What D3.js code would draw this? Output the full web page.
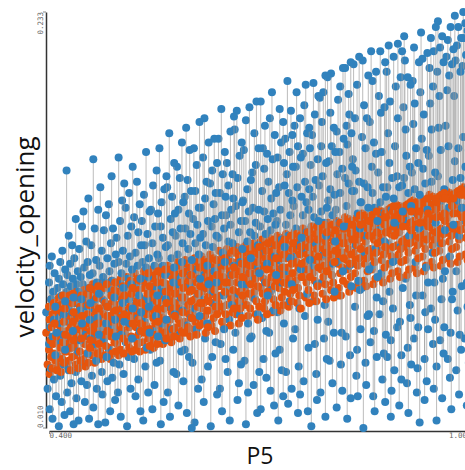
<!DOCTYPE html>
<html>
<head>
<meta charset="utf-8">
<script src="https://cdn.jsdelivr.net/npm/d3@7"></script>
<style>
html,body{margin:0;padding:0;background:#fff;}
svg{display:block;}
</style>
</head>
<body>
<svg id="chart" width="465" height="470"></svg>
<script>
const xLabel = "P5";
const yLabel = "velocity_opening";
const xTicks = [0.400, 1.000];
const yTicks = [0.010, 0.233];

const p5 = [
.396,.398,.400,.400,.401,.401,.402,.403,.403,.404,.405,.405,.406,.407,.407,.408,.409,.409,.410,.411,
.412,.412,.413,.414,.414,.415,.416,.416,.417,.418,.418,.419,.420,.420,.421,.421,.422,.423,.423,.423,
.424,.425,.425,.426,.426,.427,.428,.428,.429,.430,.430,.431,.431,.432,.433,.433,.434,.434,.435,.435,
.436,.436,.437,.438,.438,.439,.439,.440,.441,.441,.442,.442,.443,.444,.444,.445,.446,.446,.447,.447,
.448,.449,.449,.450,.450,.451,.452,.452,.453,.454,.454,.455,.455,.456,.457,.457,.458,.458,.459,.459,
.460,.460,.461,.462,.462,.463,.463,.464,.465,.465,.466,.467,.467,.468,.468,.469,.470,.470,.471,.471,
.472,.473,.473,.474,.475,.475,.476,.476,.477,.478,.478,.479,.480,.480,.481,.481,.482,.483,.483,.483,
.484,.485,.485,.486,.487,.487,.488,.488,.489,.490,.490,.491,.491,.492,.493,.493,.494,.494,.495,.495,
.496,.497,.497,.498,.499,.499,.500,.500,.501,.502,.502,.503,.503,.504,.505,.505,.506,.506,.507,.507,
.508,.509,.509,.510,.511,.511,.512,.512,.513,.514,.514,.515,.515,.516,.517,.517,.518,.518,.519,.519,
.520,.521,.521,.522,.523,.523,.524,.524,.525,.526,.526,.527,.527,.528,.529,.529,.530,.530,.531,.531,
.532,.533,.533,.534,.535,.535,.536,.536,.537,.538,.538,.539,.539,.540,.541,.541,.542,.542,.543,.543,
.544,.545,.545,.546,.547,.547,.548,.548,.549,.550,.550,.551,.551,.552,.553,.553,.554,.554,.555,.555,
.556,.557,.557,.558,.559,.559,.560,.560,.561,.562,.562,.563,.563,.564,.565,.565,.566,.566,.567,.567,
.568,.569,.569,.570,.571,.571,.572,.572,.573,.574,.574,.575,.575,.576,.577,.577,.578,.578,.579,.579,
.580,.581,.581,.582,.583,.583,.584,.584,.585,.586,.586,.587,.587,.588,.589,.589,.590,.590,.591,.591,
.592,.593,.593,.594,.595,.595,.596,.596,.597,.598,.598,.599,.599,.600,.601,.601,.602,.602,.603,.603,
.604,.605,.605,.606,.607,.607,.608,.608,.609,.610,.610,.611,.611,.612,.613,.613,.614,.614,.615,.615,
.616,.617,.617,.618,.619,.619,.620,.620,.621,.622,.622,.623,.623,.624,.625,.625,.626,.626,.627,.627,
.628,.629,.629,.630,.631,.631,.632,.632,.633,.634,.634,.635,.635,.636,.637,.637,.638,.638,.639,.639,
.640,.641,.641,.642,.643,.643,.644,.644,.645,.646,.646,.647,.647,.648,.649,.649,.650,.650,.651,.651,
.652,.653,.653,.654,.655,.655,.656,.656,.657,.658,.658,.659,.659,.660,.661,.661,.662,.662,.663,.663,
.664,.665,.665,.666,.667,.667,.668,.668,.669,.670,.670,.671,.671,.672,.673,.673,.674,.674,.675,.675,
.676,.677,.677,.678,.679,.679,.680,.680,.681,.682,.682,.683,.683,.684,.685,.685,.686,.686,.687,.687,
.688,.689,.689,.690,.691,.691,.692,.692,.693,.694,.694,.695,.695,.696,.697,.697,.698,.698,.699,.699,
.700,.701,.701,.702,.703,.703,.704,.704,.705,.706,.706,.707,.707,.708,.709,.709,.710,.710,.711,.711,
.712,.713,.713,.714,.715,.715,.716,.716,.717,.718,.718,.719,.719,.720,.721,.721,.722,.722,.723,.723,
.724,.725,.725,.726,.727,.727,.728,.728,.729,.730,.730,.731,.731,.732,.733,.733,.734,.734,.735,.735,
.736,.737,.737,.738,.739,.739,.740,.740,.741,.742,.742,.743,.743,.744,.745,.745,.746,.746,.747,.747,
.748,.749,.749,.750,.751,.751,.752,.752,.753,.754,.754,.755,.755,.756,.757,.757,.758,.758,.759,.759,
.760,.761,.761,.762,.763,.763,.764,.764,.765,.766,.766,.767,.767,.768,.769,.769,.770,.770,.771,.771,
.772,.773,.773,.774,.775,.775,.776,.776,.777,.778,.778,.779,.779,.780,.781,.781,.782,.782,.783,.783,
.784,.785,.785,.786,.787,.787,.788,.788,.789,.790,.790,.791,.791,.792,.793,.793,.794,.794,.795,.795,
.796,.797,.797,.798,.799,.799,.800,.800,.801,.802,.802,.803,.803,.804,.805,.805,.806,.806,.807,.807,
.808,.809,.809,.810,.811,.811,.812,.812,.813,.814,.814,.815,.815,.816,.817,.817,.818,.818,.819,.819,
.820,.821,.821,.822,.823,.823,.824,.824,.825,.826,.826,.827,.827,.828,.829,.829,.830,.830,.831,.831,
.832,.833,.833,.834,.835,.835,.836,.836,.837,.838,.838,.839,.839,.840,.841,.841,.842,.842,.843,.843,
.844,.845,.845,.846,.847,.847,.848,.848,.849,.850,.850,.851,.851,.852,.853,.853,.854,.854,.855,.855,
.856,.857,.857,.858,.859,.859,.860,.860,.861,.862,.862,.863,.863,.864,.865,.865,.866,.866,.867,.867,
.868,.869,.869,.870,.871,.871,.872,.872,.873,.874,.874,.875,.875,.876,.877,.877,.878,.878,.879,.879,
.880,.881,.881,.882,.883,.883,.884,.884,.885,.886,.886,.887,.887,.888,.889,.889,.890,.890,.891,.891,
.892,.893,.893,.894,.895,.895,.896,.896,.897,.898,.898,.899,.899,.900,.901,.901,.902,.902,.903,.903,
.904,.905,.905,.906,.907,.907,.908,.908,.909,.910,.910,.911,.911,.912,.913,.913,.914,.914,.915,.915,
.916,.917,.917,.918,.919,.919,.920,.920,.921,.922,.922,.923,.923,.924,.925,.925,.926,.926,.927,.927,
.928,.929,.929,.930,.931,.931,.932,.932,.933,.934,.934,.935,.935,.936,.937,.937,.938,.938,.939,.939,
.940,.941,.941,.942,.943,.943,.944,.944,.945,.946,.946,.947,.947,.948,.949,.949,.950,.950,.951,.951,
.952,.953,.953,.954,.955,.955,.956,.956,.957,.958,.958,.959,.959,.960,.961,.961,.962,.962,.963,.963,
.964,.965,.965,.966,.967,.967,.968,.968,.969,.970,.970,.971,.971,.972,.973,.973,.974,.974,.975,.975,
.976,.977,.977,.978,.979,.979,.980,.980,.981,.982,.982,.983,.983,.984,.985,.985,.986,.986,.987,.987,
.988,.989,.989,.990,.991,.991,.992,.992,.993,.994,.994,.995,.995,.996,.997,.997,.998,.998,.999,.999
];

const predicted = [
.061,.044,.075,.052,.068,.039,.057,.079,.048,.064,.071,.042,.055,.077,.050,.066,.046,.073,.059,.041,
.049,.070,.058,.080,.043,.065,.053,.076,.040,.062,.072,.047,.056,.081,.067,.045,.074,.051,.060,.078,
.068,.051,.079,.043,.062,.074,.055,.046,.081,.059,.070,.041,.064,.053,.077,.048,.067,.082,.057,.072,
.054,.077,.066,.044,.083,.060,.049,.072,.057,.080,.042,.069,.063,.075,.051,.046,.081,.058,.070,.065,
.073,.047,.061,.084,.055,.068,.043,.078,.064,.050,.082,.059,.071,.045,.076,.066,.053,.085,.062,.057,
.059,.081,.049,.070,.087,.064,.053,.076,.045,.068,.084,.057,.072,.061,.080,.050,.066,.086,.055,.074,
.082,.063,.051,.074,.088,.047,.068,.079,.057,.071,.085,.060,.049,.077,.066,.054,.087,.070,.062,.075,
.064,.086,.053,.075,.047,.070,.081,.059,.089,.067,.050,.078,.061,.072,.084,.056,.068,.088,.051,.073,
.076,.055,.088,.065,.049,.072,.083,.060,.069,.090,.052,.079,.063,.074,.058,.086,.068,.050,.081,.071,
.061,.084,.072,.050,.091,.067,.056,.079,.087,.064,.053,.075,.070,.089,.059,.082,.051,.073,.066,.085,
.081,.058,.070,.093,.052,.075,.087,.064,.078,.055,.090,.068,.060,.084,.072,.051,.089,.066,.077,.062,
.068,.091,.056,.079,.073,.094,.061,.085,.052,.076,.065,.088,.071,.082,.058,.093,.074,.063,.086,.054,
.086,.063,.075,.095,.057,.080,.069,.090,.053,.072,.083,.066,.092,.060,.078,.088,.055,.074,.094,.067,
.065,.090,.078,.059,.096,.072,.084,.062,.093,.069,.055,.081,.088,.074,.061,.095,.068,.083,.058,.077,
.087,.064,.097,.075,.060,.092,.081,.068,.095,.072,.056,.085,.078,.090,.063,.074,.093,.059,.082,.070,
.071,.095,.064,.086,.099,.077,.068,.091,.082,.058,.074,.097,.066,.088,.080,.062,.093,.072,.085,.061,
.090,.067,.080,.100,.073,.094,.061,.086,.098,.076,.064,.089,.071,.083,.096,.059,.078,.092,.069,.084,
.072,.097,.084,.063,.101,.079,.092,.067,.095,.088,.060,.075,.099,.082,.069,.090,.065,.096,.077,.086,
.094,.074,.102,.083,.066,.097,.088,.077,.100,.070,.091,.061,.085,.095,.073,.099,.080,.064,.089,.078,
.081,.103,.073,.093,.086,.065,.098,.077,.090,.101,.069,.084,.096,.062,.088,.075,.100,.080,.092,.071,
.100,.077,.092,.105,.073,.086,.098,.081,.095,.067,.089,.103,.075,.091,.064,.097,.083,.101,.071,.088,
.085,.106,.076,.097,.090,.069,.102,.082,.094,.065,.088,.104,.079,.099,.072,.092,.084,.105,.074,.096,
.104,.080,.096,.071,.088,.107,.077,.099,.092,.066,.102,.083,.094,.074,.105,.087,.069,.098,.081,.091,
.091,.107,.079,.102,.095,.085,.108,.098,.076,.104,.089,.070,.100,.082,.106,.093,.074,.097,.087,.103,
.108,.087,.101,.080,.109,.093,.104,.083,.097,.071,.090,.106,.078,.099,.086,.068,.103,.094,.075,.107,
.093,.110,.085,.106,.100,.111,.082,.103,.090,.074,.097,.108,.078,.101,.088,.105,.071,.095,.109,.083,
.107,.087,.112,.097,.083,.110,.102,.091,.072,.095,.105,.079,.099,.111,.086,.093,.076,.108,.101,.089,
.098,.113,.089,.110,.104,.085,.112,.095,.073,.106,.092,.101,.080,.109,.096,.076,.103,.088,.111,.083,
.112,.092,.114,.101,.087,.108,.105,.096,.075,.111,.090,.102,.082,.113,.098,.078,.106,.093,.084,.109,
.101,.115,.093,.112,.108,.089,.114,.099,.077,.105,.085,.110,.096,.081,.113,.103,.074,.107,.091,.098,
.116,.096,.117,.105,.092,.112,.110,.099,.080,.114,.088,.103,.095,.115,.084,.107,.077,.101,.111,.091,
.105,.117,.097,.118,.112,.093,.116,.103,.081,.109,.089,.114,.100,.078,.106,.118,.086,.111,.096,.102,
.119,.099,.114,.108,.095,.117,.113,.102,.082,.116,.091,.106,.097,.119,.087,.110,.079,.104,.115,.094,
.108,.120,.100,.117,.115,.096,.118,.106,.084,.112,.092,.103,.119,.088,.110,.080,.114,.099,.105,.116,
.111,.121,.102,.118,.098,.116,.107,.085,.114,.093,.120,.104,.081,.112,.096,.119,.089,.109,.101,.117,
.116,.104,.123,.112,.100,.120,.087,.109,.095,.122,.106,.083,.117,.098,.114,.091,.121,.103,.111,.119,
.120,.112,.104,.121,.093,.115,.100,.118,.085,.108,.123,.097,.111,.088,.122,.101,.114,.124,.106,.119,
.115,.125,.107,.122,.103,.119,.089,.112,.098,.124,.110,.086,.120,.101,.117,.094,.123,.105,.113,.121,
.122,.114,.106,.124,.095,.118,.102,.120,.087,.111,.125,.099,.113,.090,.123,.104,.115,.126,.109,.121,
.118,.127,.110,.124,.105,.121,.091,.114,.100,.126,.112,.088,.122,.103,.119,.096,.125,.107,.115,.123,
.125,.117,.109,.127,.098,.121,.105,.124,.090,.114,.128,.102,.116,.093,.126,.107,.118,.129,.113,.123,
.122,.130,.114,.127,.108,.124,.094,.117,.103,.129,.115,.091,.125,.106,.122,.099,.128,.110,.118,.126,
.127,.119,.111,.129,.100,.123,.107,.126,.092,.112,.130,.104,.118,.095,.128,.109,.120,.131,.116,.126,
.128,.117,.132,.121,.110,.129,.096,.119,.105,.131,.113,.093,.127,.108,.124,.101,.130,.112,.120,.126,
.129,.121,.113,.131,.102,.125,.109,.128,.094,.114,.132,.106,.120,.097,.130,.111,.122,.133,.118,.125,
.130,.120,.135,.124,.113,.132,.099,.122,.108,.134,.116,.096,.130,.111,.127,.104,.133,.115,.123,.131,
.132,.124,.116,.134,.105,.128,.112,.131,.097,.117,.135,.109,.123,.100,.133,.114,.125,.136,.121,.133,
.134,.122,.137,.126,.115,.134,.101,.124,.110,.136,.118,.098,.132,.113,.129,.106,.135,.117,.125,.133,
.134,.126,.118,.136,.107,.130,.114,.133,.099,.119,.137,.111,.125,.102,.135,.116,.127,.138,.123,.135,
.136,.124,.139,.128,.117,.136,.103,.126,.112,.138,.120,.100,.134,.115,.131,.108,.137,.119,.127,.135
];

const actual = [
.072,.031,.088,.055,.097,.020,.064,.079,.042,.102,.059,.015,.083,.068,.036,.093,.049,.075,.027,.061,
.085,.046,.070,.011,.090,.056,.038,.099,.066,.081,.024,.105,.060,.087,.044,.071,.017,.095,.052,.078,
.058,.148,.083,.029,.092,.067,.113,.041,.076,.019,.098,.053,.086,.034,.072,.108,.062,.090,.012,.080,
.101,.063,.077,.040,.122,.087,.026,.069,.094,.051,.083,.014,.106,.073,.057,.091,.035,.079,.118,.066,
.087,.045,.126,.070,.096,.024,.081,.061,.110,.033,.075,.099,.050,.133,.085,.015,.068,.092,.058,.077,
.066,.108,.038,.093,.074,.154,.021,.085,.055,.117,.079,.046,.100,.031,.088,.069,.127,.012,.082,.060,
.097,.062,.139,.083,.040,.105,.071,.028,.091,.116,.057,.078,.013,.088,.124,.066,.048,.101,.075,.035,
.076,.130,.052,.094,.019,.084,.109,.064,.145,.037,.089,.071,.117,.045,.098,.080,.025,.068,.103,.059,
.112,.064,.081,.029,.099,.155,.073,.044,.121,.087,.016,.093,.060,.132,.077,.105,.039,.085,.067,.141,
.084,.128,.056,.098,.072,.011,.113,.090,.048,.079,.136,.066,.102,.031,.087,.118,.058,.095,.074,.150,
.093,.047,.123,.076,.027,.104,.085,.058,.142,.069,.097,.036,.115,.081,.062,.130,.019,.090,.072,.108,
.121,.099,.070,.014,.088,.135,.067,.108,.043,.096,.158,.079,.053,.114,.091,.029,.101,.075,.126,.061,
.052,.091,.127,.077,.020,.109,.084,.140,.062,.097,.033,.118,.086,.070,.148,.045,.103,.081,.125,.059,
.101,.074,.160,.046,.118,.012,.086,.131,.066,.097,.112,.083,.024,.138,.092,.057,.107,.079,.145,.068,
.139,.029,.108,.083,.057,.168,.094,.016,.122,.075,.101,.134,.063,.115,.088,.040,.152,.096,.071,.125,
.113,.070,.039,.150,.103,.087,.022,.127,.060,.091,.144,.080,.117,.051,.099,.163,.073,.109,.035,.131,
.078,.134,.052,.117,.171,.098,.018,.065,.143,.106,.085,.125,.048,.159,.092,.114,.069,.137,.010,.100,
.045,.122,.088,.160,.074,.013,.109,.137,.095,.063,.151,.119,.082,.031,.128,.103,.174,.070,.112,.090,
.128,.101,.036,.079,.155,.114,.024,.092,.176,.058,.133,.085,.108,.142,.066,.097,.121,.043,.163,.087,
.099,.141,.066,.011,.118,.083,.148,.048,.107,.130,.077,.165,.094,.122,.056,.136,.088,.113,.028,.152,
.072,.165,.112,.089,.031,.136,.096,.055,.181,.019,.124,.104,.146,.081,.117,.063,.158,.099,.134,.047,
.124,.084,.152,.040,.110,.140,.068,.101,.014,.119,.169,.092,.127,.076,.146,.109,.052,.133,.097,.177,
.170,.093,.061,.129,.180,.105,.025,.144,.082,.115,.034,.071,.156,.099,.121,.044,.163,.087,.131,.106,
.132,.076,.159,.046,.121,.098,.012,.175,.087,.138,.110,.029,.066,.126,.093,.182,.115,.058,.143,.101,
.059,.147,.106,.128,.090,.033,.168,.113,.079,.151,.120,.185,.097,.018,.071,.108,.160,.127,.040,.093,
.118,.185,.020,.095,.137,.069,.160,.104,.047,.126,.149,.088,.172,.114,.037,.062,.098,.157,.122,.081,
.142,.061,.098,.176,.116,.030,.133,.084,.190,.109,.154,.125,.073,.022,.102,.167,.119,.050,.136,.092,
.121,.155,.072,.014,.139,.100,.181,.052,.127,.088,.163,.111,.041,.096,.174,.027,.066,.152,.107,.140,
.165,.119,.040,.146,.094,.196,.113,.023,.136,.078,.158,.124,.101,.180,.031,.087,.167,.132,.058,.150,
.129,.172,.102,.063,.150,.117,.190,.085,.139,.018,.161,.108,.043,.074,.176,.028,.095,.155,.134,.112,
.091,.157,.124,.035,.183,.106,.142,.070,.194,.131,.115,.168,.082,.019,.127,.053,.171,.138,.100,.160,
.151,.118,.011,.167,.096,.134,.078,.195,.123,.055,.178,.143,.109,.039,.087,.025,.154,.068,.188,.121,
.140,.187,.109,.029,.161,.126,.088,.174,.145,.103,.190,.120,.058,.076,.016,.199,.113,.152,.047,.128,
.198,.132,.067,.153,.115,.046,.179,.138,.200,.092,.161,.124,.034,.098,.061,.171,.083,.135,.158,.110,
.127,.169,.021,.146,.099,.186,.120,.081,.158,.136,.193,.112,.044,.061,.149,.030,.203,.094,.165,.118,
.111,.203,.144,.059,.172,.129,.015,.162,.118,.189,.141,.178,.097,.049,.206,.026,.086,.168,.137,.150,
.154,.098,.205,.137,.075,.176,.108,.148,.038,.194,.052,.125,.027,.089,.142,.209,.117,.084,.063,.131,
.131,.166,.085,.207,.122,.010,.183,.141,.104,.160,.045,.113,.033,.176,.070,.139,.199,.128,.071,.095,
.174,.119,.056,.212,.150,.097,.136,.196,.027,.163,.062,.128,.019,.106,.157,.201,.048,.080,.091,.121,
.147,.188,.116,.071,.212,.131,.179,.093,.158,.125,.036,.139,.078,.050,.182,.110,.024,.206,.134,.060,
.201,.139,.048,.168,.108,.215,.152,.083,.185,.016,.057,.127,.030,.144,.074,.099,.209,.133,.041,.120,
.161,.128,.193,.100,.145,.064,.216,.176,.119,.139,.022,.067,.107,.198,.049,.036,.140,.212,.085,.126,
.182,.220,.144,.207,.090,.170,.121,.156,.034,.198,.053,.136,.018,.113,.076,.150,.069,.194,.129,.044,
.147,.196,.112,.173,.058,.214,.138,.184,.099,.160,.081,.125,.029,.042,.064,.152,.117,.206,.013,.135,
.190,.133,.222,.165,.081,.208,.149,.118,.178,.025,.047,.141,.072,.096,.035,.159,.211,.127,.063,.088,
.156,.203,.118,.184,.074,.219,.142,.170,.104,.193,.055,.212,.031,.088,.068,.147,.225,.120,.043,.014,
.201,.145,.228,.171,.109,.188,.057,.214,.159,.132,.079,.026,.220,.090,.050,.206,.138,.064,.116,.094,
.172,.209,.134,.191,.047,.218,.161,.128,.199,.037,.102,.225,.061,.020,.079,.205,.143,.083,.213,.119,
.188,.231,.153,.207,.094,.041,.215,.132,.073,.160,.225,.113,.028,.060,.201,.144,.219,.052,.128,.086,
.204,.233,.166,.219,.121,.058,.227,.150,.210,.088,.022,.075,.223,.139,.045,.159,.192,.036,.091,.216
];

const svg = d3.select("#chart");
const x = d3.scaleLinear().domain([0.4, 1.0]).range([49, 471]);
const y = d3.scaleLinear().domain([0.010, 0.233]).range([428, 12]);
const fmt = d3.format(".3f");

const xAxis = svg.append("g").attr("transform", "translate(0,431)")
  .call(d3.axisBottom(x).tickValues(xTicks).tickFormat(fmt).tickSize(3).tickSizeOuter(0));
xAxis.selectAll(".tick text")
  .attr("text-anchor", (d, i) => i === 0 ? "start" : "end")
  .attr("dy", "0.4em").attr("y", 4);
const yAxis = svg.append("g").attr("transform", "translate(46,0)")
  .call(d3.axisLeft(y).tickValues(yTicks).tickFormat(fmt).tickSize(3).tickSizeOuter(0));
yAxis.selectAll(".tick text")
  .attr("transform", "rotate(-90)")
  .attr("x", d => -y(d)).attr("y", -3).attr("dy", 0)
  .attr("text-anchor", (d, i) => i === 0 ? "start" : "end");
yAxis.selectAll(".tick").attr("transform", "translate(0,0)");
yAxis.selectAll(".tick line").attr("y1", d => y(d)).attr("y2", d => y(d));
[xAxis, yAxis].forEach(a => {
  a.select(".domain").attr("stroke", "#333").attr("stroke-width", 1.5);
  a.selectAll(".tick line").attr("stroke", "#888");
  a.selectAll(".tick text").attr("font-family", "'DejaVu Sans Mono', monospace")
    .attr("font-size", 7.5).attr("fill", "#666");
});

// one group per record: residual line, predicted dot, actual dot
const pts = p5.map((v, i) => ({x: v, p: predicted[i], a: actual[i], k: (i % 20) * 100 + Math.floor(i / 20)}));
pts.sort((a, b) => a.k - b.k);
const g = svg.append("g");
const item = g.selectAll("g.pt").data(pts).join("g").attr("class", "pt");
item.append("line")
  .attr("x1", d => x(d.x)).attr("x2", d => x(d.x))
  .attr("y1", d => y(d.p)).attr("y2", d => y(d.a))
  .attr("stroke", "#999").attr("stroke-opacity", 0.6).attr("stroke-width", 1.1);
item.append("circle")
  .attr("cx", d => x(d.x)).attr("cy", d => y(d.p)).attr("r", 4)
  .attr("fill", "#e6550d");
item.append("circle")
  .attr("cx", d => x(d.x)).attr("cy", d => y(d.a)).attr("r", 4)
  .attr("fill", "#3182bd");

svg.append("text").attr("x", 260).attr("y", 464).attr("text-anchor", "middle")
  .attr("font-family", "'Open Sans', sans-serif").attr("font-size", 23).attr("fill", "#111")
  .text(xLabel);
svg.append("text").attr("transform", "translate(34,237) rotate(-90)").attr("text-anchor", "middle")
  .attr("font-family", "'Open Sans', sans-serif").attr("font-size", 26).attr("fill", "#111")
  .text(yLabel);
</script>
</body>
</html>
